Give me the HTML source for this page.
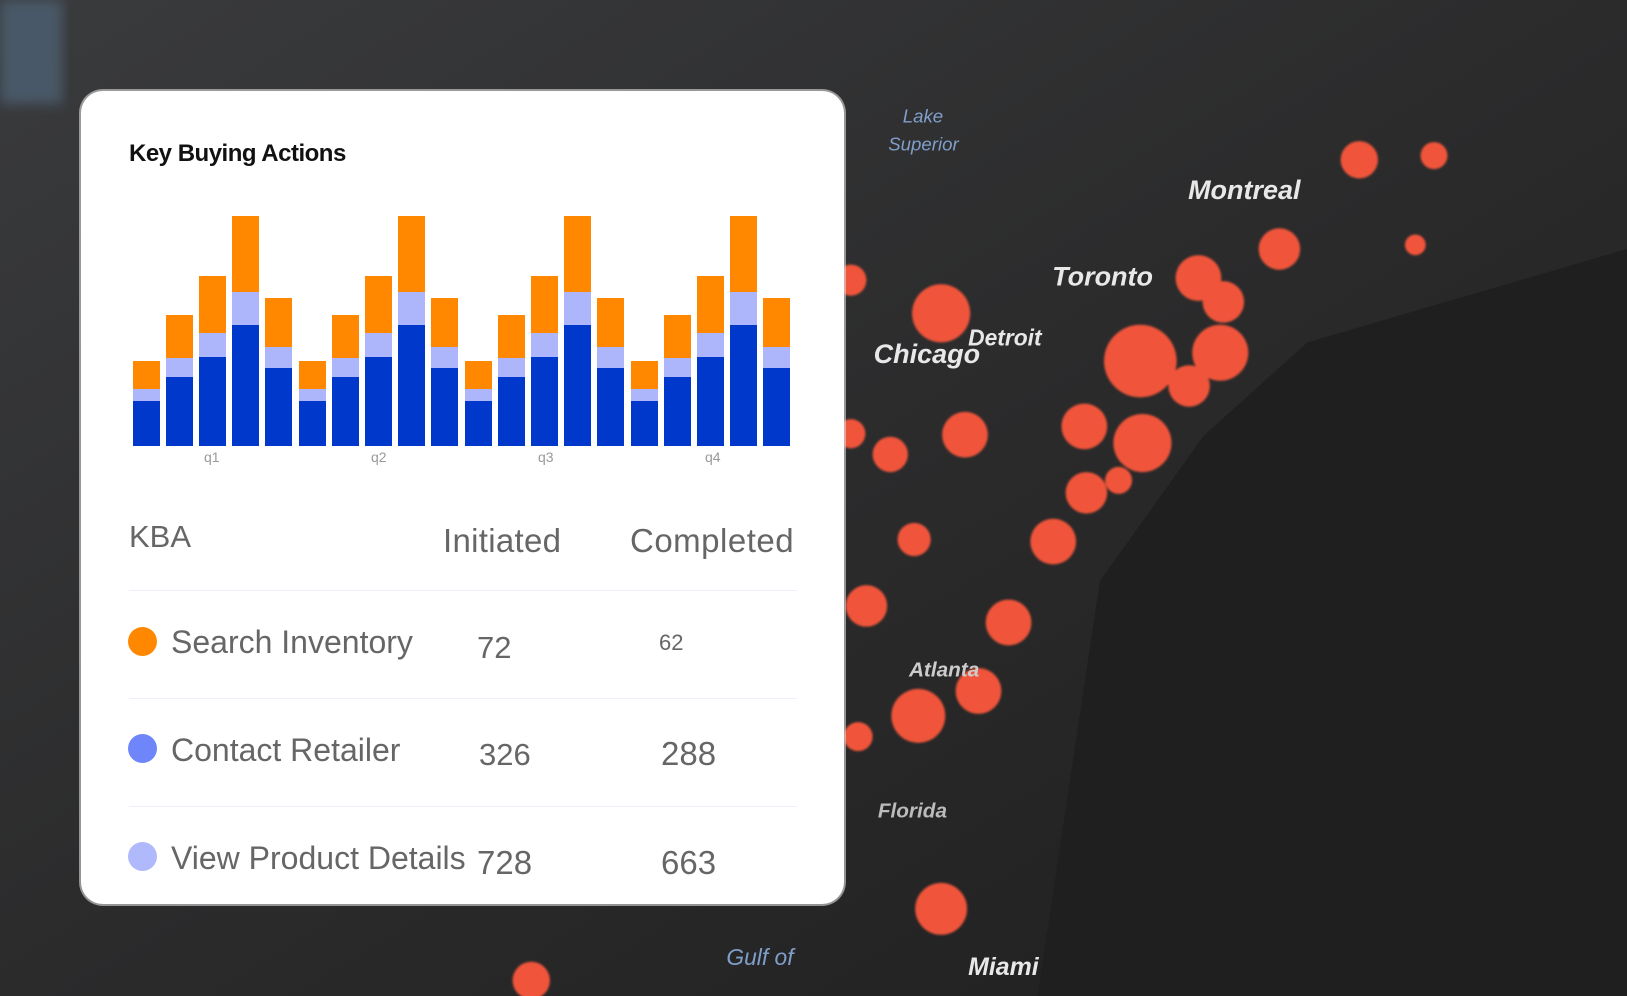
<!DOCTYPE html>
<html><head><meta charset="utf-8">
<style>
html,body{margin:0;padding:0;width:1627px;height:996px;overflow:hidden;background:#222;font-family:"Liberation Sans",sans-serif;}
#bg{position:absolute;left:0;top:0;}
.card{position:absolute;left:81px;top:91px;width:763px;height:813px;background:#fff;border-radius:22px;box-shadow:0 0 0 2px rgba(220,220,220,.6);}
.t{position:absolute;white-space:nowrap;color:#666;}
.bar{position:absolute;width:27px;}
.dot{position:absolute;width:29px;height:29px;border-radius:50%;}
.line{position:absolute;left:48px;width:668px;height:1px;background:#edf0fa;}
</style></head><body>
<svg id="bg" width="1627" height="996" viewBox="0 0 1568 960" preserveAspectRatio="none">
<defs>
<linearGradient id="g" x1="0" y1="0" x2="1" y2="1">
<stop offset="0" stop-color="#3a3b3d"/><stop offset="0.5" stop-color="#2b2b2c"/><stop offset="1" stop-color="#1e1e1e"/></linearGradient>
<filter id="b"><feGaussianBlur stdDeviation="6"/></filter>
<filter id="s"><feGaussianBlur stdDeviation="1"/></filter>
</defs>
<rect width="1568" height="960" fill="url(#g)"/>
<path d="M1000 960 L1060 560 L1160 420 L1260 330 L1568 240 L1568 960 Z" fill="#1f1f1f"/>
<rect x="0" y="0" width="60" height="100" fill="#4a5868" filter="url(#b)"/>
<g fill="#f0553a" filter="url(#s)">
<circle cx="907" cy="302" r="28"/><circle cx="1099" cy="348" r="35"/><circle cx="1155" cy="268" r="22"/><circle cx="1179" cy="291" r="20"/><circle cx="1233" cy="240" r="20"/><circle cx="1176" cy="340" r="27"/><circle cx="1146" cy="372" r="20"/><circle cx="1101" cy="427" r="28"/><circle cx="1045" cy="411" r="22"/><circle cx="930" cy="419" r="22"/><circle cx="858" cy="438" r="17"/><circle cx="1047" cy="475" r="20"/><circle cx="1078" cy="463" r="13"/><circle cx="1015" cy="522" r="22"/><circle cx="881" cy="520" r="16"/><circle cx="972" cy="600" r="22"/><circle cx="943" cy="666" r="22"/><circle cx="885" cy="690" r="26"/><circle cx="907" cy="876" r="25"/><circle cx="1310" cy="154" r="18"/><circle cx="1382" cy="150" r="13"/><circle cx="1364" cy="236" r="10"/><circle cx="820" cy="270" r="15"/><circle cx="820" cy="418" r="14"/><circle cx="835" cy="584" r="20"/><circle cx="827" cy="710" r="14"/><circle cx="512" cy="945" r="18"/>
</g>
<g fill="#e8e8e8" font-family="Liberation Sans" font-weight="bold" font-style="italic" font-size="26">
<text x="1145" y="192">Montreal</text><text x="1014" y="275">Toronto</text><text x="842" y="350">Chicago</text><text x="933" y="333" font-size="22">Detroit</text><text x="933" y="940" font-size="24">Miami</text><text x="846" y="788" font-size="20" fill="#bbb">Florida</text><text x="876" y="652" font-size="20" fill="#ccc">Atlanta</text>
</g>
<g fill="#7f9ec9" font-family="Liberation Sans" font-style="italic" font-size="18"><text x="870" y="118">Lake</text><text x="856" y="145">Superior</text><text x="700" y="930" font-size="22">Gulf of</text></g>
</svg>
<div class="card">
<div class="t" style="left:48px;top:49px;font-size:24px;font-weight:bold;color:#111;letter-spacing:-0.5px">Key Buying Actions</div>
<div id="bars"></div>
<div class="t" style="left:123px;top:358px;font-size:14px;color:#999">q1</div>
<div class="t" style="left:290px;top:358px;font-size:14px;color:#999">q2</div>
<div class="t" style="left:457px;top:358px;font-size:14px;color:#999">q3</div>
<div class="t" style="left:624px;top:358px;font-size:14px;color:#999">q4</div>

<div class="t" style="left:48px;font-size:31px;line-height:31px;top:430px">KBA</div>
<div class="t" style="left:362px;top:433px;font-size:33px;line-height:33px;letter-spacing:0.3px">Initiated</div>
<div class="t" style="left:549px;top:433px;font-size:33px;line-height:33px;letter-spacing:0.5px">Completed</div>
<div class="line" style="top:499px"></div>
<div class="line" style="top:607px"></div>
<div class="line" style="top:715px"></div>

<div class="dot" style="left:47px;top:536px;background:#ff8800"></div>
<div class="t" style="left:90px;top:535px;font-size:32px;line-height:32px">Search Inventory</div>
<div class="t" style="left:396px;top:541px;font-size:31px;line-height:31px">72</div>
<div class="t" style="left:578px;top:541px;font-size:22px;line-height:22px">62</div>

<div class="dot" style="left:47px;top:643px;background:#6f86fb"></div>
<div class="t" style="left:90px;top:643px;font-size:32px;line-height:32px">Contact Retailer</div>
<div class="t" style="left:398px;top:648px;font-size:31px;line-height:31px">326</div>
<div class="t" style="left:580px;top:646px;font-size:33px;line-height:33px">288</div>

<div class="dot" style="left:47px;top:751px;background:#b0b9fb"></div>
<div class="t" style="left:90px;top:751px;font-size:32px;line-height:32px">View Product Details</div>
<div class="t" style="left:396px;top:755px;font-size:33px;line-height:33px">728</div>
<div class="t" style="left:580px;top:755px;font-size:33px;line-height:33px">663</div>
</div>
<script>
var p=[[361,389,401],[315,358,377],[276,333,357],[216,292,325],[298,347,368]];
var base=446,h='';
for(var i=0;i<20;i++){var b=p[i%5];var x=132.5+i*33.2-81;
h+='<div class="bar" style="left:'+x+'px;top:'+(b[0]-91)+'px;height:'+(b[1]-b[0])+'px;background:#ff8800"></div>';
h+='<div class="bar" style="left:'+x+'px;top:'+(b[1]-91)+'px;height:'+(b[2]-b[1])+'px;background:#adb6fb"></div>';
h+='<div class="bar" style="left:'+x+'px;top:'+(b[2]-91)+'px;height:'+(base-b[2])+'px;background:#0038cc"></div>';}
document.getElementById('bars').innerHTML=h;
</script>
</body></html>
